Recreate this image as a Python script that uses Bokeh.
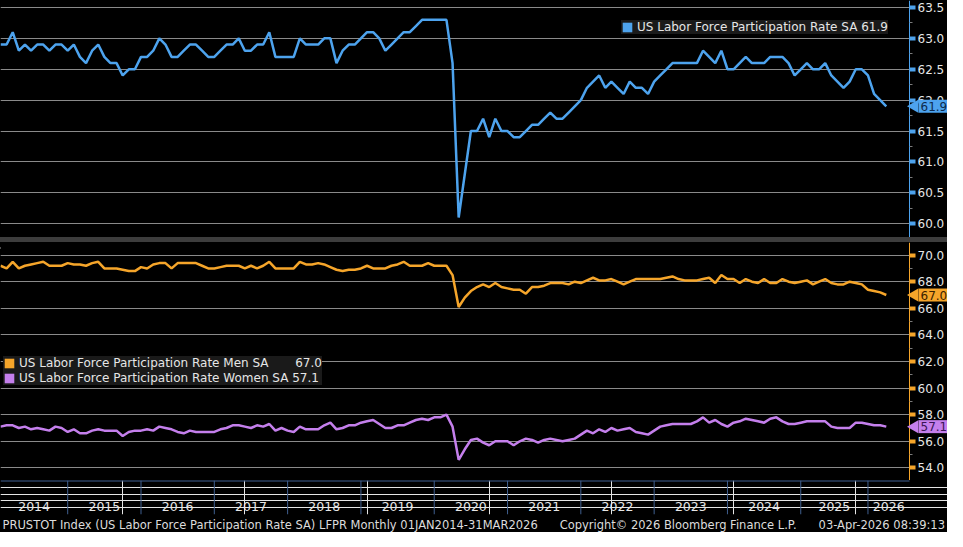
from bokeh.plotting import figure
from bokeh.models import (ColumnDataSource, Range1d, FixedTicker, NumeralTickFormatter,
                          Legend, LegendItem, Label, Title, Div, BoxAnnotation)
from bokeh.layouts import column
from bokeh.embed import file_html
from bokeh.resources import INLINE
from bokeh.core.properties import value

# ---------------- data (monthly observations; Oct-2025 not published) ----------------
months = [f"{y}-{m:02d}" for y in range(2014, 2027) for m in range(1, 13)
          if (y, m) != (2025, 10) and (y < 2026 or m <= 3)]

lfpr_total = [
    62.9, 62.9, 63.1, 62.8, 62.9, 62.8, 62.9, 62.9, 62.8, 62.9, 62.9, 62.8,  # 2014
    62.9, 62.7, 62.6, 62.8, 62.9, 62.7, 62.6, 62.6, 62.4, 62.5, 62.5, 62.7,  # 2015
    62.7, 62.8, 63.0, 62.9, 62.7, 62.7, 62.8, 62.9, 62.9, 62.8, 62.7, 62.7,  # 2016
    62.8, 62.9, 62.9, 63.0, 62.8, 62.8, 62.9, 62.9, 63.1, 62.7, 62.7, 62.7,  # 2017
    62.7, 63.0, 62.9, 62.9, 62.9, 63.0, 63.0, 62.6, 62.8, 62.9, 62.9, 63.0,  # 2018
    63.1, 63.1, 63.0, 62.8, 62.9, 63.0, 63.1, 63.1, 63.2, 63.3, 63.3, 63.3,  # 2019
    63.3, 63.3, 62.6, 60.1, 60.8, 61.5, 61.5, 61.7, 61.4, 61.7, 61.5, 61.5,  # 2020
    61.4, 61.4, 61.5, 61.6, 61.6, 61.7, 61.8, 61.7, 61.7, 61.8, 61.9, 62.0,  # 2021
    62.2, 62.3, 62.4, 62.2, 62.3, 62.2, 62.1, 62.3, 62.2, 62.2, 62.1, 62.3,  # 2022
    62.4, 62.5, 62.6, 62.6, 62.6, 62.6, 62.6, 62.8, 62.7, 62.6, 62.8, 62.5,  # 2023
    62.5, 62.6, 62.7, 62.6, 62.6, 62.6, 62.7, 62.7, 62.7, 62.6, 62.4, 62.5,  # 2024
    62.6, 62.5, 62.5, 62.6, 62.4, 62.3, 62.2, 62.3, 62.5, 62.5, 62.4,        # 2025
    62.1, 62.0, 61.9,                                                        # 2026
]

lfpr_men = [
    69.2, 69.0, 69.5, 69.0, 69.2, 69.3, 69.4, 69.5, 69.2, 69.2, 69.2, 69.4,
    69.3, 69.3, 69.2, 69.4, 69.5, 69.0, 69.0, 69.0, 68.9, 68.8, 68.8, 69.1,
    69.0, 69.3, 69.4, 69.4, 69.0, 69.4, 69.4, 69.4, 69.4, 69.2, 69.0, 69.0,
    69.1, 69.2, 69.2, 69.2, 69.0, 69.2, 69.0, 69.2, 69.5, 69.0, 69.0, 69.0,
    69.0, 69.5, 69.3, 69.3, 69.4, 69.3, 69.1, 68.9, 68.8, 68.9, 68.9, 69.0,
    69.2, 69.0, 69.0, 69.0, 69.2, 69.3, 69.5, 69.2, 69.2, 69.2, 69.4, 69.2,
    69.2, 69.2, 68.5, 66.1, 66.8, 67.3, 67.6, 67.8, 67.6, 67.9, 67.6, 67.5,
    67.4, 67.4, 67.1, 67.6, 67.6, 67.7, 67.9, 67.9, 67.9, 67.8, 68.0, 67.9,
    68.1, 68.3, 68.1, 68.1, 68.2, 68.0, 67.8, 68.0, 68.2, 68.2, 68.2, 68.2,
    68.2, 68.3, 68.4, 68.2, 68.1, 68.1, 68.1, 68.2, 68.3, 67.9, 68.5, 68.2,
    68.2, 67.9, 68.2, 68.0, 67.9, 68.2, 67.9, 67.9, 68.2, 68.0, 67.9, 68.0,
    68.1, 67.8, 68.0, 68.2, 67.9, 67.8, 67.8, 68.0, 67.9, 67.8, 67.4,
    67.3, 67.2, 67.0,
]

lfpr_women = [
    57.1, 57.2, 57.2, 57.0, 57.1, 56.9, 57.0, 56.9, 56.8, 57.1, 57.0, 56.7,
    56.9, 56.6, 56.6, 56.8, 56.9, 56.8, 56.8, 56.8, 56.4, 56.7, 56.8, 56.8,
    56.9, 56.8, 57.1, 57.0, 56.9, 56.7, 56.6, 56.8, 56.7, 56.7, 56.7, 56.7,
    56.9, 57.0, 57.2, 57.2, 57.1, 57.0, 57.2, 57.1, 57.3, 56.8, 57.0, 56.8,
    56.7, 57.1, 56.9, 56.9, 56.9, 57.2, 57.4, 56.9, 57.0, 57.2, 57.2, 57.4,
    57.5, 57.6, 57.3, 57.0, 57.0, 57.2, 57.2, 57.4, 57.6, 57.7, 57.6, 57.8,
    57.8, 58.0, 57.1, 54.6, 55.4, 56.1, 56.2, 55.9, 55.7, 56.0, 56.0, 56.0,
    55.7, 56.0, 56.2, 56.1, 55.9, 56.1, 56.2, 56.1, 56.0, 56.1, 56.2, 56.5,
    56.8, 56.6, 56.9, 56.7, 57.0, 56.8, 56.9, 57.0, 56.7, 56.6, 56.5, 56.8,
    57.1, 57.2, 57.3, 57.3, 57.3, 57.3, 57.5, 57.8, 57.4, 57.6, 57.3, 57.1,
    57.4, 57.5, 57.7, 57.6, 57.5, 57.4, 57.7, 57.8, 57.5, 57.3, 57.3, 57.4,
    57.5, 57.5, 57.5, 57.5, 57.1, 57.0, 57.0, 57.0, 57.4, 57.4, 57.3,
    57.2, 57.2, 57.1,
]

year_labels = ["2014", "2015", "2016", "2017", "2018", "2019", "2020",
               "2021", "2022", "2023", "2024", "2025", "2026"]
top_ticks = [60.0, 60.5, 61.0, 61.5, 62.0, 62.5, 63.0, 63.5]
top_minor = [59.75, 60.25, 60.75, 61.25, 61.75, 62.25, 62.75, 63.25]
bot_ticks = [54.0, 56.0, 58.0, 60.0, 62.0, 64.0, 66.0, 68.0, 70.0]
bot_minor = [53.0, 55.0, 57.0, 59.0, 61.0, 63.0, 65.0, 67.0, 69.0]

footer_text = ("PRUSTOT Index (US Labor Force Participation Rate SA) LFPR Monthly 01JAN2014-31MAR2026"
               + "\u00a0" * 6 + "Copyright\u00a9 2026 Bloomberg Finance L.P."
               + "\u00a0" * 6 + "03-Apr-2026 08:39:13")

# ---------------- style / geometry ----------------
FONT = "DejaVu Sans"
BLUE = "#4da3ee"
ORANGE = "#f5a52a"
PURPLE = "#c47fec"
GRID = "#8a8a8a"
TEXT = "#e6e6e6"
STRIP = "#3f5f8f"
TOTAL_W = 947          # full frame width (axis area included)
DATA_W = 909           # pixels used by the plotting area left of the axis
AXIS_X = 148.8         # observation-index position of the right axis
PX = AXIS_X / DATA_W   # data units per pixel along x
NAN = float("nan")

x_idx = list(range(len(months)))
src = ColumnDataSource(dict(x=x_idx, total=lfpr_total, men=lfpr_men, women=lfpr_women))
xr = Range1d(0.0, AXIS_X * TOTAL_W / DATA_W)


def make_panel(frame_h, y0, y1, axis_color, ticks, minor):
    p = figure(frame_width=TOTAL_W, frame_height=frame_h, x_range=xr,
               y_range=Range1d(y0, y1), y_axis_location="right", x_axis_location=None,
               toolbar_location=None, output_backend="svg", min_border=0)
    p.background_fill_color = "black"
    p.border_fill_color = "black"
    p.outline_line_color = None
    for g in p.ygrid:
        g.ticker = FixedTicker(ticks=ticks)
        g.grid_line_color = GRID
        g.grid_line_width = 1
    for g in p.xgrid:
        g.visible = False
    # hide grid lines in the axis area
    p.add_layout(BoxAnnotation(left=AXIS_X, fill_color="black", fill_alpha=1.0,
                               line_color=None, level="underlay"))
    ax = p.yaxis[0]
    ax.fixed_location = AXIS_X
    ax.ticker = FixedTicker(ticks=ticks, minor_ticks=minor)
    ax.formatter = NumeralTickFormatter(format="0.0")
    ax.axis_line_color = axis_color
    ax.axis_line_width = 1
    ax.major_tick_line_color = axis_color
    ax.major_tick_line_width = 4
    ax.major_tick_out = 6
    ax.major_tick_in = 0
    ax.minor_tick_line_color = "#7a7a7a"
    ax.minor_tick_out = 3
    ax.minor_tick_in = 0
    ax.major_label_text_color = TEXT
    ax.major_label_text_font = FONT
    ax.major_label_text_font_size = "12px"
    ax.major_label_standoff = 2
    return p


def tag(p, yv, fill, txt_color):
    # pointer + last-value box on the right axis
    p.scatter(x=[AXIS_X + 5 * PX], y=[yv], marker="triangle", angle=1.5708, size=13,
              fill_color=fill, line_color=None, level="overlay")
    p.add_layout(Label(x=AXIS_X, y=yv, x_offset=9, text=f"{yv:.1f}",
                       text_align="left", text_baseline="middle",
                       text_font=FONT, text_font_size="12px", text_color=txt_color,
                       background_fill_color=fill, background_fill_alpha=1.0, padding=2))


def swatch(p, color):
    # legend-only square (no visible data point)
    return p.quad(left=[NAN], right=[NAN], top=[NAN], bottom=[NAN],
                  fill_color=color, line_color=None)


def legend(items, location):
    return Legend(items=items, location=location, margin=0,
                  background_fill_color="#1a1a1a", background_fill_alpha=1.0,
                  border_line_color=None, label_text_color=TEXT, label_text_font=FONT,
                  label_text_font_size="12px", glyph_width=12, glyph_height=12,
                  label_standoff=4, label_height=13, spacing=1, padding=7)


# ---- top panel ----
p1 = make_panel(237, 59.777, 63.613, BLUE, top_ticks, top_minor)
p1.line("x", "total", source=src, line_color=BLUE, line_width=2.5)
sw1 = swatch(p1, BLUE)
p1.add_layout(legend([LegendItem(label=value(f"US Labor Force Participation Rate SA {lfpr_total[-1]:.1f}"),
                                 renderers=[sw1], index=0)], (621, 203)))
tag(p1, lfpr_total[-1], BLUE, "#0d2b4d")

# ---- separator ----
sep = Div(text='<div style="width:12px;height:1px;margin:1px auto 0 auto;'
               'border-top:1px solid #a0a0a0;border-bottom:1px solid #a0a0a0;"></div>',
          width=TOTAL_W, height=5, margin=0, styles={"background-color": "#3d3d3d"})

# ---- bottom panel ----
p2 = make_panel(238, 53.05, 70.95, ORANGE, bot_ticks, bot_minor)
p2.line("x", "men", source=src, line_color=ORANGE, line_width=2.5)
p2.line("x", "women", source=src, line_color=PURPLE, line_width=2.5)
sw_m = swatch(p2, ORANGE)
sw_w = swatch(p2, PURPLE)
p2.add_layout(legend([
    LegendItem(label=value("US Labor Force Participation Rate Men SA" + "\u00a0" * 7 + f"{lfpr_men[-1]:.1f}"),
               renderers=[sw_m], index=0),
    LegendItem(label=value(f"US Labor Force Participation Rate Women SA {lfpr_women[-1]:.1f}"),
               renderers=[sw_w], index=0),
], (3, 95)))
tag(p2, lfpr_men[-1], ORANGE, "#3b2200")
tag(p2, lfpr_women[-1], PURPLE, "#3a1456")

# ---- year strip ----
p3 = figure(frame_width=TOTAL_W, frame_height=34, x_range=xr, y_range=Range1d(0, 1),
            x_axis_location=None, y_axis_location=None, toolbar_location=None,
            output_backend="svg", min_border=0)
p3.background_fill_color = "black"
p3.border_fill_color = "black"
p3.outline_line_color = None

bounds = [months.index(f"{y}-01") - 1 for y in year_labels]
ends = bounds[1:] + [AXIS_X]
centers = [(max(b, xr.start) + min(e, AXIS_X)) / 2 for b, e in zip(bounds, ends)]
vis = [b for b in bounds if b > xr.start]
p3.segment(x0=vis, y0=[0] * len(vis), x1=vis, y1=[1] * len(vis), line_color=STRIP, line_width=1)
p3.segment(x0=[xr.start], y0=[1], x1=[AXIS_X], y1=[1], line_color=STRIP, line_width=2)
p3.text(x=centers, y=[0.24] * len(centers), text=year_labels, text_align="center",
        text_baseline="middle", text_font=value(FONT), text_font_size="12.5px", text_color=TEXT)
p3.add_layout(Title(text=footer_text, align="left", text_font=FONT, text_font_size="11.5px",
                    text_font_style="normal", text_color="#dcdcdc", standoff=2, offset=2), "below")

layout = column(p1, sep, p2, p3, spacing=0, styles={"background-color": "black"})

open("out.html", "w").write(file_html(layout, INLINE))
